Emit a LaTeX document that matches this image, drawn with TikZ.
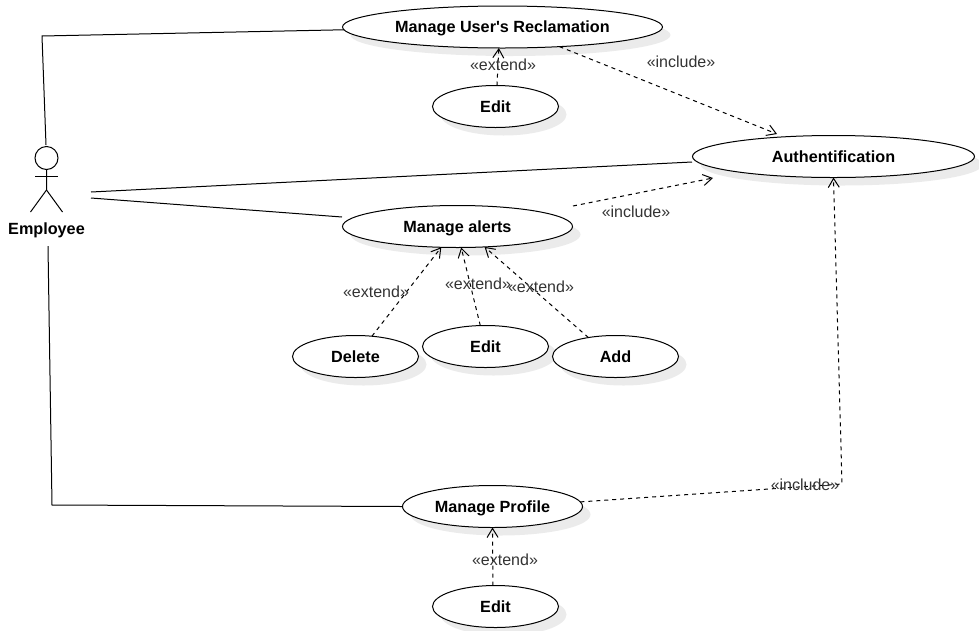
\documentclass[tikz,border=0pt]{standalone}
\usepackage{fontspec}
\setmainfont{Liberation Sans}
\usetikzlibrary{arrows.meta,positioning,shadows,shapes.geometric}
\tikzset{
	x=1pt,
	y=-1pt,
	on grid,
	>={Straight Barb[length=9pt,width=11pt]},
	boldtext/.style={font=\fontsize{16.2}{18}\selectfont\bfseries, text height=13pt, text depth=1.3pt},
	usecase/.style={ellipse, draw, fill=white, inner sep=0pt, outer sep=0pt,
		minimum height=42pt, minimum width=126pt, boldtext,
		drop shadow={shadow xshift=8pt, shadow yshift=-8pt, fill=black!8, opacity=1}},
	assoc/.style={draw},
	deplink/.style={->, draw, dashed, dash pattern=on 4pt off 4pt},
	deplabel/.style={font=\fontsize{16}{18}\selectfont, text=black!80, inner sep=0pt},
}
\begin{document}
\begin{tikzpicture}[line width=1pt]
      \useasboundingbox (0,0) rectangle (979,630);

      \node[usecase, minimum width=320pt] (reclamation) at (502.5,27) {Manage User\textquotesingle s Reclamation};
      \node[usecase, below=79.5pt of reclamation, xshift=-7pt] (editrec) {Edit};
      \node[usecase, minimum width=282pt] (auth) at (833.5,156.5) {Authentification};
      \node[usecase, minimum width=230pt] (alerts) at (457.5,226.5) {Manage alerts};
      \node[usecase] (delete) at (355.5,356.5) {Delete};
      \node[usecase] (editalert) at (485.5,346.5) {Edit};
      \node[usecase] (add) at (615.5,356.5) {Add};
      \node[usecase, minimum width=180pt] (profile) at (492.5,506.5) {Manage Profile};
      \node[usecase, below=100pt of profile, xshift=3pt] (editprofile) {Edit};

      % actor
      \node[circle, draw, inner sep=0pt, outer sep=0pt, minimum size=23pt] (head) at (46.5,158) {};
      \node[boldtext, inner sep=0pt] (employee) at (46.5,228.7) {Employee};
      \coordinate (hip) at (46.5,190);
      \draw (head.south) -- (hip) -- (30.5,212);
      \draw (hip) -- (62.5,212);
      \draw (35,176) -- (58,176);

      \coordinate (actortop) at (46,145);
      \coordinate (actorup) at (91,192);
      \coordinate (actorlow) at (91,198);
      \coordinate (actorbottom) at (48,246);
      \coordinate (cornertop) at (42,36);
      \coordinate (cornerbottom) at (52,505);
      \coordinate (cornerinclude) at (842,484);
      \coordinate (authtop) at (777,134);
      \coordinate (authleft) at (713,178);
      \coordinate (authin) at (692,162);
      \coordinate (alertsin) at (342,217);
      \coordinate (alertsout) at (573,206);

      \draw[assoc] (reclamation.181) -- (cornertop) -- (actortop);
      \draw[assoc] (actorup) -- (authin);
      \draw[assoc] (actorlow) -- (alertsin);
      \draw[assoc] (profile.west) -- (cornerbottom) -- (actorbottom);

      \draw[deplink] (editrec.86) -- (reclamation.260);
      \draw[deplink] (reclamation.341.5) -- (authtop);
      \draw[deplink] (alertsout) -- (authleft);
      \draw[deplink] (delete.51) -- (alerts.232);
      \draw[deplink] (editalert.104) -- (alerts.280);
      \draw[deplink] (add.145) -- (alerts.323);
      \draw[deplink] (profile.3) -- (cornerinclude) -- (auth.south);
      \draw[deplink] (editprofile.97) -- (profile.south);

      \node[deplabel] (lblrec) at (503,64.5) {«extend»};
      \node[deplabel] (lblauth) at (681,61.5) {«include»};
      \node[deplabel] (lblalerts) at (636,212) {«include»};
      \node[deplabel] (lbldelete) at (376,292) {«extend»};
      \node[deplabel] (lbledit) at (478,284) {«extend»};
      \node[deplabel] (lbladd) at (541,287) {«extend»};
      \node[deplabel] (lblprofile) at (805,485) {«include»};
      \node[deplabel] (lbleditp) at (505,560) {«extend»};
\end{tikzpicture}
\end{document}
